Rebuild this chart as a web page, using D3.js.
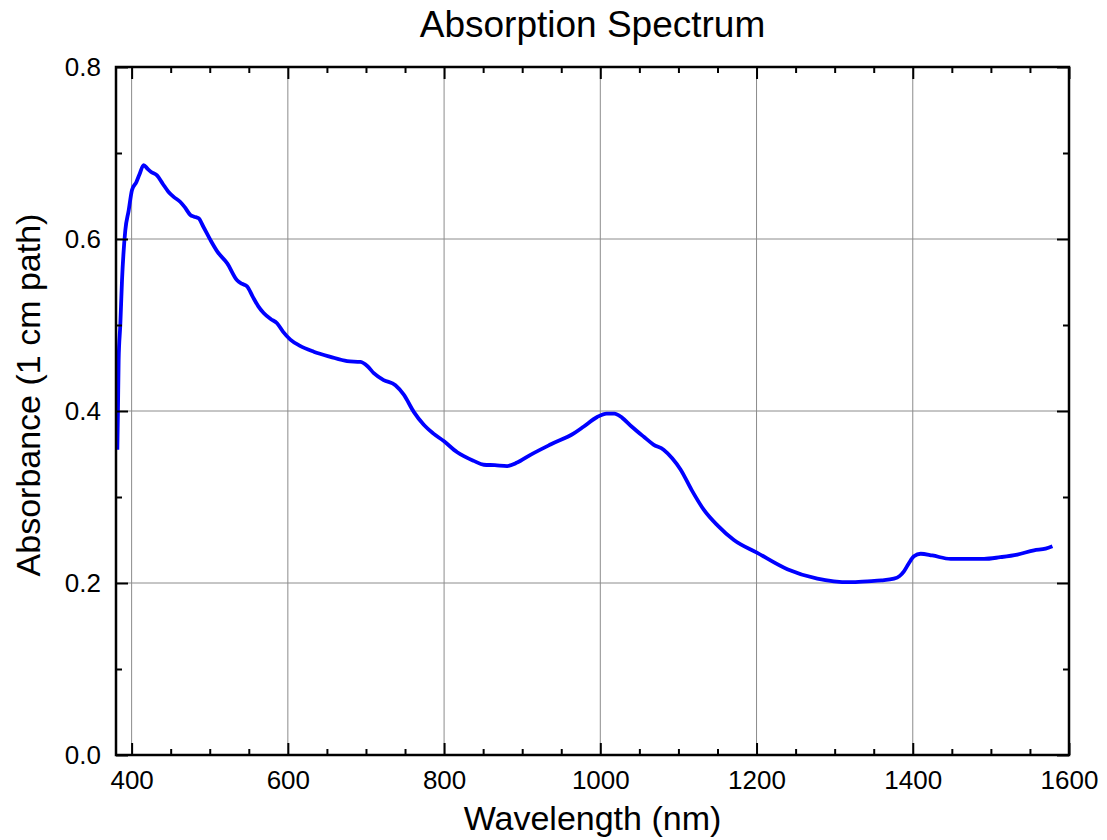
<!DOCTYPE html>
<html>
<head>
<meta charset="utf-8">
<script src="https://cdn.jsdelivr.net/npm/d3@7"></script>
<style>
  body { margin: 0; background: #fff; }
  svg { display: block; font-family: "Liberation Sans", Arial, sans-serif; }
</style>
</head>
<body>
<svg id="chart"></svg>
<script>
const wavelength = [381.7, 382.5, 383.4, 385.5, 387.7, 391.9, 396.2, 400.5, 406, 410, 415.4, 420, 425, 432.5, 440, 447, 453.8, 462.4, 468, 475.2, 480, 485.8, 492, 500.8, 510, 522.2, 535, 541, 547.8, 555, 562, 569, 578, 586.2, 594, 603.2, 615, 633.1, 654.5, 675.9, 693, 702, 710, 722.7, 737.7, 748.4, 761.2, 774, 786, 799.6, 816.8, 838, 850.8, 865, 880.8, 893.6, 910.6, 936.2, 966.1, 978.9, 996, 1008, 1018, 1028.1, 1040, 1055.7, 1068, 1081, 1092, 1102.7, 1117, 1132.6, 1150, 1171, 1201, 1239.4, 1277.8, 1299, 1320, 1341.8, 1360, 1375.9, 1383, 1388.7, 1395, 1401.5, 1410.1, 1425, 1448.5, 1470, 1491.2, 1512, 1533.9, 1555.2, 1570, 1578.8];
const absorbance = [0.355, 0.40, 0.46, 0.50, 0.552, 0.61, 0.633, 0.657, 0.666, 0.675, 0.686, 0.682, 0.678, 0.674, 0.664, 0.655, 0.649, 0.643, 0.637, 0.628, 0.626, 0.624, 0.614, 0.599, 0.585, 0.572, 0.552, 0.548, 0.545, 0.533, 0.522, 0.514, 0.507, 0.502, 0.492, 0.483, 0.476, 0.469, 0.463, 0.458, 0.457, 0.452, 0.444, 0.436, 0.430, 0.419, 0.399, 0.384, 0.374, 0.365, 0.352, 0.342, 0.3375, 0.337, 0.336, 0.340, 0.349, 0.361, 0.374, 0.382, 0.393, 0.397, 0.397, 0.392, 0.382, 0.370, 0.361, 0.355, 0.345, 0.332, 0.308, 0.285, 0.267, 0.250, 0.235, 0.216, 0.205, 0.202, 0.201, 0.202, 0.203, 0.205, 0.208, 0.2136, 0.223, 0.231, 0.234, 0.232, 0.228, 0.228, 0.228, 0.230, 0.233, 0.238, 0.240, 0.2427];
const xMajor = [400, 600, 800, 1000, 1200, 1400, 1600];
const yMajor = [0.0, 0.2, 0.4, 0.6, 0.8];

const W = 1107, H = 840;
const margin = {left: 116, right: 38, top: 67, bottom: 85};
const width = W - margin.left - margin.right;
const height = H - margin.top - margin.bottom;

const svg = d3.select('#chart').attr('width', W).attr('height', H);
const g = svg.append('g').attr('transform', `translate(${margin.left},${margin.top})`);

const x = d3.scaleLinear().domain([380, 1600]).range([0, width]);
const y = d3.scaleLinear().domain([0, 0.8]).range([height, 0]);

// grid
g.append('g').selectAll('line').data(xMajor).join('line')
  .attr('x1', d => x(d)).attr('x2', d => x(d))
  .attr('y1', 0).attr('y2', height)
  .attr('stroke', '#8c8c8c').attr('stroke-width', 1);
g.append('g').selectAll('line').data(yMajor).join('line')
  .attr('x1', 0).attr('x2', width)
  .attr('y1', d => y(d)).attr('y2', d => y(d))
  .attr('stroke', '#8c8c8c').attr('stroke-width', 1);

// spectrum
const data = wavelength.map((w, i) => [w, absorbance[i]]);
g.append('path')
  .datum(data)
  .attr('fill', 'none')
  .attr('stroke', '#0000ff')
  .attr('stroke-width', 3.8)
  .attr('stroke-linejoin', 'round')
  .attr('d', d3.line().x(d => x(d[0])).y(d => y(d[1])).curve(d3.curveMonotoneX));

const xMinor = d3.range(400, 1601, 50).filter(d => !xMajor.includes(d));
const yMinor = [0.1, 0.3, 0.5, 0.7];

const styleAxis = sel => {
  sel.select('.domain').remove();
  sel.selectAll('line').attr('stroke', '#000').attr('stroke-width', 2);
  sel.selectAll('text').attr('font-size', 26).attr('fill', '#000')
    .attr('font-family', '"Liberation Sans", Arial, sans-serif');
};

// bottom
g.append('g').attr('transform', `translate(0,${height})`)
  .call(d3.axisBottom(x).tickValues(xMajor).tickSize(-12).tickPadding(16).tickFormat(d3.format('d')))
  .call(styleAxis);
g.append('g').attr('transform', `translate(0,${height})`)
  .call(d3.axisBottom(x).tickValues(xMinor).tickSize(-6).tickFormat(''))
  .call(styleAxis);
// top
g.append('g')
  .call(d3.axisTop(x).tickValues(xMajor).tickSize(-12).tickFormat(''))
  .call(styleAxis);
g.append('g')
  .call(d3.axisTop(x).tickValues(xMinor).tickSize(-6).tickFormat(''))
  .call(styleAxis);
// left
g.append('g')
  .call(d3.axisLeft(y).tickValues(yMajor).tickSize(-12).tickPadding(15).tickFormat(d3.format('.1f')))
  .call(styleAxis);
g.append('g')
  .call(d3.axisLeft(y).tickValues(yMinor).tickSize(-6).tickFormat(''))
  .call(styleAxis);
// right
g.append('g').attr('transform', `translate(${width},0)`)
  .call(d3.axisRight(y).tickValues(yMajor).tickSize(-12).tickFormat(''))
  .call(styleAxis);
g.append('g').attr('transform', `translate(${width},0)`)
  .call(d3.axisRight(y).tickValues(yMinor).tickSize(-6).tickFormat(''))
  .call(styleAxis);

// frame
g.append('rect')
  .attr('width', width).attr('height', height)
  .attr('fill', 'none').attr('stroke', '#000').attr('stroke-width', 2.5);

// labels
svg.append('text')
  .attr('x', margin.left + width / 2).attr('y', 37)
  .attr('text-anchor', 'middle').attr('font-size', 37)
  .text('Absorption Spectrum');
svg.append('text')
  .attr('x', margin.left + width / 2).attr('y', 830)
  .attr('text-anchor', 'middle').attr('font-size', 34)
  .text('Wavelength (nm)');
svg.append('text')
  .attr('transform', `translate(40,395) rotate(-90)`)
  .attr('text-anchor', 'middle').attr('font-size', 34)
  .text('Absorbance (1 cm path)');
</script>
</body>
</html>
